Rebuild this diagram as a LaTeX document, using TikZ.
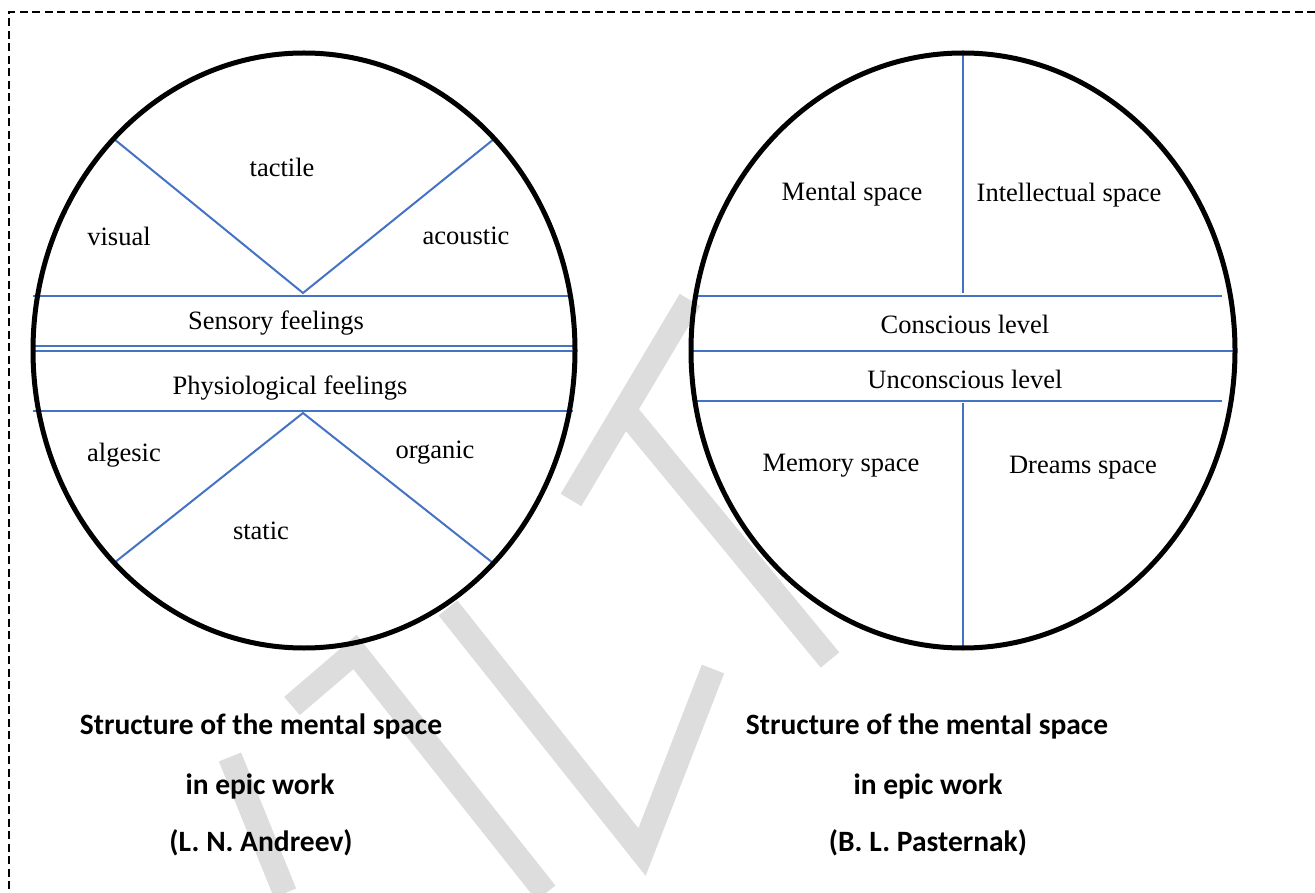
\documentclass[tikz,border=0pt]{standalone}
\usepackage{fontspec}
\setmainfont{Liberation Serif}
\newfontfamily\capfont{Carlito}
\definecolor{divblue}{RGB}{68,114,196}
\definecolor{markgray}{RGB}{221,221,221}
\begin{document}
\begin{tikzpicture}[x=1pt,y=-1pt,
  rim/.style={draw=black,line width=5pt},
  divider/.style={draw=divblue,line width=2pt},
  lbl/.style={font=\fontsize{26.5}{30}\selectfont,inner sep=0pt},
  captext/.style={font=\capfont\bfseries\fontsize{29.5}{33}\selectfont,inner sep=0pt},
  dashframe/.style={draw=black,line width=2pt,dash pattern=on 8pt off 4.5pt},
  markband/.style={draw=markgray,line width=24pt,line join=miter}]
\useasboundingbox (0,0) rectangle (1315,893);

% faint background lettering
\draw[markband] (690,300) -- (571,500);
\draw[markband] (620,405) -- (830,660);
\draw[markband] (448,608) -- (642,852) -- (713,669);
\draw[markband] (292,706) -- (355,652) -- (546,893);
\draw[markband] (230,757) -- (285,893);

% dashed frame (top and left edges)
\draw[dashframe] (1315,12) -- (9,12) -- (9,893);

% ---------- left scheme ----------
\coordinate (La) at (303,293);
\coordinate (Lb) at (303,413);
\coordinate (Lul) at (114,139);
\coordinate (Lur) at (494,139);
\coordinate (Lll) at (114,563);
\coordinate (Llr) at (493,563);
\draw[divider] (Lul) -- (La) -- (Lur);
\draw[divider] (Lll) -- (Lb) -- (Llr);
\coordinate (L1a) at (33,296);  \coordinate (L1b) at (573,296);
\coordinate (L2a) at (33,346);  \coordinate (L2b) at (573,346);
\coordinate (L3a) at (33,351);  \coordinate (L3b) at (576,351);
\coordinate (L4a) at (33,411);  \coordinate (L4b) at (573,411);
\draw[divider] (L1a) -- (L1b);
\draw[divider,line width=1.6pt] (L2a) -- (L2b);
\draw[divider,line width=1.6pt] (L3a) -- (L3b);
\draw[divider] (L4a) -- (L4b);
\draw[rim] (304,350.5) ellipse [x radius=271, y radius=297.5];

\node[lbl] (tactile)  at (282,167) {tactile};
\node[lbl] (visual)   at (119,236) {visual};
\node[lbl] (acoustic) at (466,236) {acoustic};
\node[lbl] (sens)     at (276,323) {Sensory feelings};
\node[lbl] (phys)     at (290,388) {Physiological feelings};
\node[lbl] (algesic)  at (124,455) {algesic};
\node[lbl] (organic)  at (435,453) {organic};
\node[lbl] (static)   at (261,531) {static};

% ---------- right scheme ----------
\coordinate (Rt) at (963,53);   \coordinate (Rtm) at (963,293);
\coordinate (Rbm) at (963,403); \coordinate (Rb) at (963,648);
\draw[divider] (Rt) -- (Rtm);
\draw[divider] (Rbm) -- (Rb);
\coordinate (R1a) at (695,296);  \coordinate (R1b) at (1222,296);
\coordinate (R2a) at (690,351);  \coordinate (R2b) at (1235,351);
\coordinate (R3a) at (697,401);  \coordinate (R3b) at (1222,401);
\draw[divider] (R1a) -- (R1b);
\draw[divider] (R2a) -- (R2b);
\draw[divider] (R3a) -- (R3b);
\draw[rim] (963,350.5) ellipse [x radius=272, y radius=297.5];

\node[lbl] (mental)  at (852,194) {Mental space};
\node[lbl] (intel)   at (1069,195) {Intellectual space};
\node[lbl] (consc)   at (965,324) {Conscious level};
\node[lbl] (uncons)  at (965,379) {Unconscious level};
\node[lbl] (memory)  at (841,466) {Memory space};
\node[lbl] (dreams)  at (1083,468) {Dreams space};

% ---------- captions ----------
\node[captext] (lc1) at (261,726) {Structure of the mental space};
\node[captext] (lc2) at (260,786) {in epic work};
\node[captext] (lc3) at (261,843) {(L. N. Andreev)};
\node[captext] (rc1) at (927,726) {Structure of the mental space};
\node[captext] (rc2) at (928,786) {in epic work};
\node[captext] (rc3) at (928,843) {(B. L. Pasternak)};
\end{tikzpicture}
\end{document}
